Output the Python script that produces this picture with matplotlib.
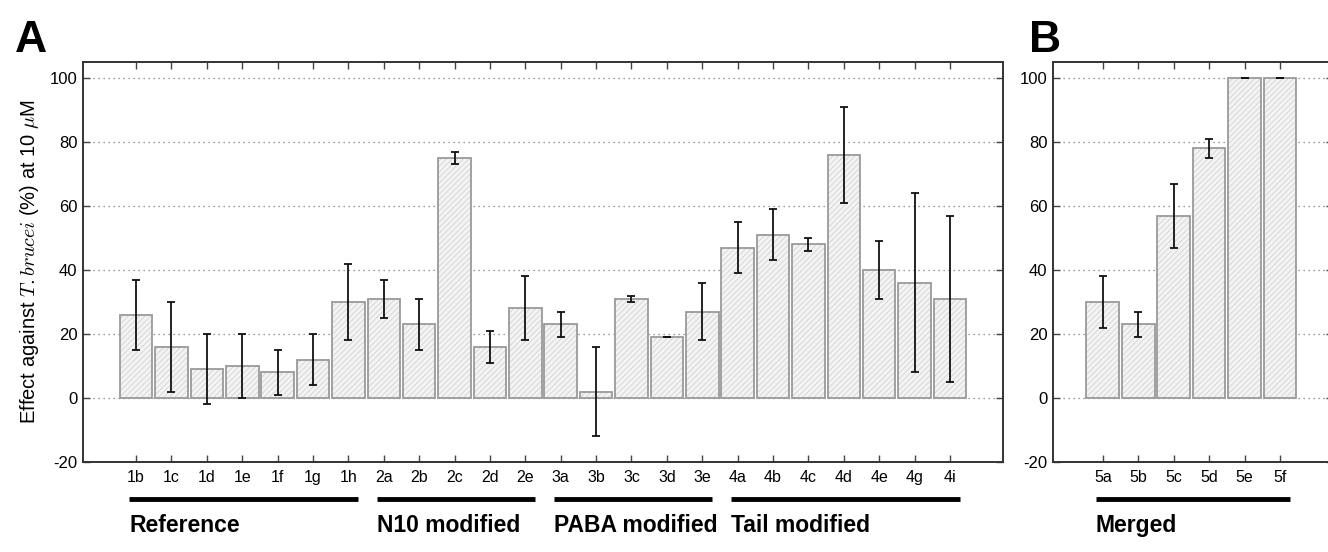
import numpy as np
import matplotlib
matplotlib.use("Agg")
import matplotlib.pyplot as plt
import matplotlib.transforms as mtransforms

plt.rcParams['font.family'] = ['Liberation Sans', 'DejaVu Sans']
plt.rcParams['mathtext.fontset'] = 'cm'
plt.rcParams['hatch.linewidth'] = 0.4
plt.rcParams['hatch.color'] = '#c4c4c4'

# panel A data
labels_a = ['1b', '1c', '1d', '1e', '1f', '1g', '1h',
            '2a', '2b', '2c', '2d', '2e',
            '3a', '3b', '3c', '3d', '3e',
            '4a', '4b', '4c', '4d', '4e', '4g', '4i']
values_a = [26, 16, 9, 10, 8, 12, 30,
            31, 23, 75, 16, 28,
            23, 2, 31, 19, 27,
            47, 51, 48, 76, 40, 36, 31]
errors_a = [11, 14, 11, 10, 7, 8, 12,
            6, 8, 2, 5, 10,
            4, 14, 1, 0, 9,
            8, 8, 2, 15, 9, 28, 26]
groups_a = [('Reference', 0, 6), ('N10 modified', 7, 11),
            ('PABA modified', 12, 16), ('Tail modified', 17, 23)]

# panel B data
labels_b = ['5a', '5b', '5c', '5d', '5e', '5f']
values_b = [30, 23, 57, 78, 100, 100]
errors_b = [8, 4, 10, 3, 0, 0]
groups_b = [('Merged', 0, 5)]


def draw_panel(ax, labels, values, errors, groups):
    x = np.arange(1, len(labels) + 1)
    ax.bar(x, values, width=0.92, color='#f3f3f3', edgecolor='#c4c4c4',
           hatch='//////', linewidth=0, zorder=2)
    ax.bar(x, values, width=0.92, fill=False, edgecolor='#9a9a9a',
           linewidth=1.3, zorder=3)
    ax.errorbar(x, values, yerr=errors, fmt='none', ecolor='#111111',
                elinewidth=1.3, capsize=2.6, capthick=1.3, zorder=4)
    ax.set_ylim(-20, 105)
    ax.set_yticks([-20, 0, 20, 40, 60, 80, 100])
    ax.set_yticklabels(['-20', '0', '20', '40', '60', '80', '100'])
    ax.set_xticks(x)
    ax.set_xticklabels(labels)
    ax.yaxis.grid(True, linestyle=(0, (1, 3)), color='#777777', linewidth=0.9)
    ax.set_axisbelow(True)
    ax.tick_params(direction='in', top=True, right=True,
                   length=5, width=1, color='#444444', pad=6)
    ax.tick_params(axis='x', labelsize=11.5)
    ax.tick_params(axis='y', labelsize=12, pad=4)
    for s in ax.spines.values():
        s.set_color('#333333')
        s.set_linewidth(1.4)
    # group bars + names under the tick labels
    trans = mtransforms.blended_transform_factory(ax.transData, ax.transAxes)
    for name, i0, i1 in groups:
        ax.plot([x[i0] - 0.2, x[i1] + 0.27], [-0.092, -0.092], color='black',
                linewidth=3.5, transform=trans, clip_on=False,
                solid_capstyle='butt')
        ax.text(x[i0] - 0.2, -0.13, name, transform=trans, ha='left',
                va='top', fontsize=16.5, fontweight='bold')


fig = plt.figure(figsize=(13.28, 5.52), dpi=100)
ax_a = fig.add_axes([0.0625, 0.163, 0.6928, 0.7246])
ax_b = fig.add_axes([0.793, 0.163, 0.211, 0.7246])

draw_panel(ax_a, labels_a, values_a, errors_a, groups_a)
ax_a.set_xlim(-0.5, 25.5)
draw_panel(ax_b, labels_b, values_b, errors_b, groups_b)
ax_b.set_xlim(-0.4, 7.5)

ax_a.set_ylabel(r'Effect against $T.brucei$ (%) at 10 $\mu$M', fontsize=14.5,
                labelpad=6)

fig.text(0.011, 0.905, 'A', fontsize=32, fontweight='bold')
fig.text(0.775, 0.905, 'B', fontsize=32, fontweight='bold')

fig.savefig('out.png', dpi=100)
